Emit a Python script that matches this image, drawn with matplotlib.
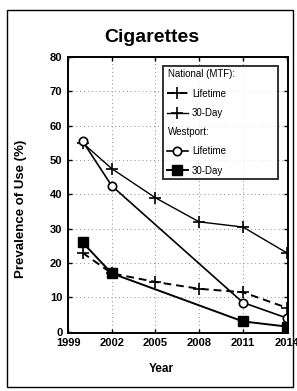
import matplotlib
matplotlib.use("Agg")
import matplotlib.pyplot as plt
from matplotlib.lines import Line2D
from matplotlib.patches import Rectangle

plt.rcParams["font.family"] = ["Liberation Sans", "DejaVu Sans"]

# National (MTF) series
mtf_years = [2000, 2002, 2005, 2008, 2011, 2014]
mtf_upper = [55.0, 47.5, 39.0, 32.0, 30.5, 23.0]   # solid line
mtf_lower = [23.0, 17.0, 14.5, 12.5, 11.5, 7.0]    # dashed line

# Westport series
wp_years = [2000, 2002, 2011, 2014]
wp_lifetime = [55.5, 42.5, 8.5, 4.0]
wp_30day = [26.0, 17.0, 3.0, 1.5]

x_ticks = [1999, 2002, 2005, 2008, 2011, 2014]
y_ticks = [0, 10, 20, 30, 40, 50, 60, 70, 80]

fig = plt.figure(figsize=(2.97, 3.91), dpi=100)
ax = fig.add_axes([0.229, 0.149, 0.741, 0.705])

ax.plot(mtf_years, mtf_lower, color="black", linestyle=(0, (4, 2.5)), linewidth=1.4,
        marker="+", markersize=8, markeredgewidth=1.2, label="Lifetime")
ax.plot(mtf_years, mtf_upper, color="black", linestyle="-", linewidth=1.0,
        marker="+", markersize=8, markeredgewidth=1.2, label="30-Day")
ax.plot(wp_years, wp_lifetime, color="black", linewidth=1.2, marker="o", markersize=6,
        markerfacecolor="white", markeredgewidth=1.2, label="Lifetime")
ax.plot(wp_years, wp_30day, color="black", linewidth=1.4, marker="s", markersize=7,
        label="30-Day")

ax.set_xlim(1999, 2014.1)
ax.set_ylim(-0.3, 80)
ax.set_xticks(x_ticks)
ax.set_yticks(y_ticks)
ax.tick_params(direction="in", top=True, right=True, length=3, width=1, labelsize=8)
ax.tick_params(axis="y", pad=4)
for lab in ax.get_xticklabels() + ax.get_yticklabels():
    lab.set_fontweight("bold")
ax.grid(True, color="0.55", linestyle=(0, (1, 3)), linewidth=0.7)
for sp in ax.spines.values():
    sp.set_linewidth(1.4)

fig.text(0.51, 0.903, "Cigarettes", fontsize=14, fontweight="bold", ha="center", va="center")
ax.set_xlabel("Year", fontsize=8.5, fontweight="bold")
ax.xaxis.set_label_coords(0.425, -0.11)
ax.set_ylabel("Prevalence of Use (%)", fontsize=9.5, fontweight="bold")
ax.yaxis.set_label_coords(-0.185, 0.45)

# legend with group headers
lines = ax.get_lines()
blank = Line2D([], [], linestyle="none", marker=None)
handles = [blank, lines[0], lines[1], blank, lines[2], lines[3]]
labels = ["National (MTF):", "Lifetime", "30-Day", "Westport:", "Lifetime", "30-Day"]
leg = ax.legend(handles, labels, loc="upper left", bbox_to_anchor=(0.41, 0.985, 0.565, 0.0),
                mode="expand", fontsize=7, frameon=True, fancybox=False, edgecolor="black",
                handlelength=2.2, handletextpad=0.4, labelspacing=0.95, borderpad=0.35)
leg.get_frame().set_linewidth(1.4)
shift = (2.2 + 0.4) * 7 * fig.dpi / 72 - 1
for i in (0, 3):
    leg.get_texts()[i].set_x(-shift)

fig.patches.append(Rectangle((0.022, 0.01), 0.963, 0.965, transform=fig.transFigure,
                             fill=False, edgecolor="black", linewidth=1.0))

fig.savefig("out.png", dpi=100)
